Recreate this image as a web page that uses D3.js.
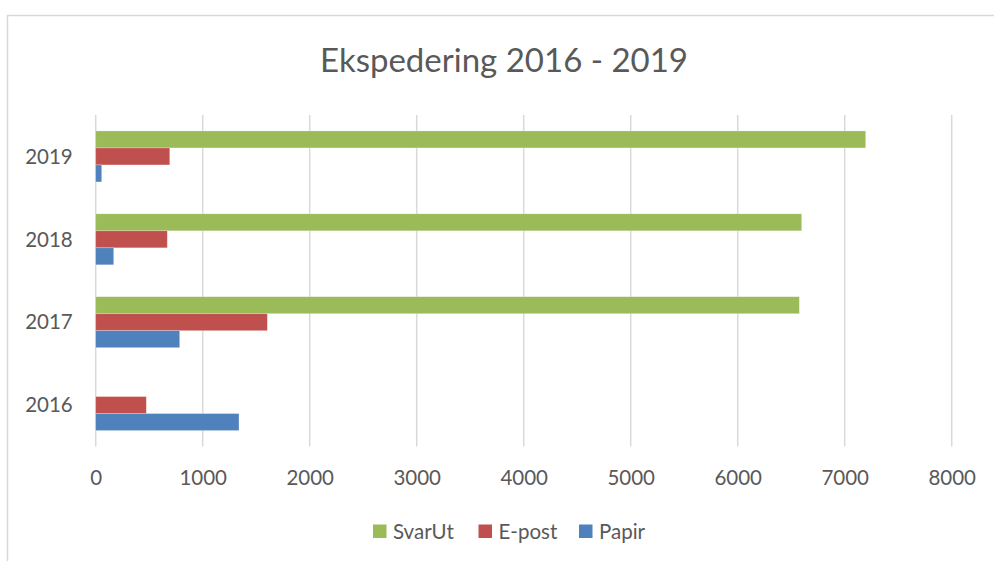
<!DOCTYPE html>
<html>
<head>
<meta charset="utf-8">
<script src="https://cdn.jsdelivr.net/npm/d3@7"></script>
<style>
  html, body { margin: 0; padding: 0; background: #fff; }
  svg { display: block; font-family: Lato, "Open Sans", sans-serif; }
</style>
</head>
<body>
<svg id="chart" width="994" height="561"></svg>
<script>
// data
var years = ["2019", "2018", "2017", "2016"];
var seriesNames = ["SvarUt", "E-post", "Papir"];
var svarUt = [7196, 6598, 6576, 0];
var ePost = [692, 669, 1604, 473];
var papir = [56, 168, 785, 1339];
var xTicks = [0, 1000, 2000, 3000, 4000, 5000, 6000, 7000, 8000];
var colors = ["#9BBB59", "#C0504D", "#4F81BD"];

var svg = d3.select("#chart");
var textColor = "#595959";

// chart frame (runs off the right/bottom edge like the screenshot)
svg.append("rect")
  .attr("x", 7.5).attr("y", 15.5)
  .attr("width", 1000).attr("height", 600)
  .attr("fill", "#fff")
  .attr("stroke", "#d9d9d9")
  .attr("stroke-width", 1.5);

var plotLeft = 95.7, plotRight = 951.7, plotTop = 115, plotBottom = 446.5;

var x = d3.scaleLinear().domain([0, 8000]).range([plotLeft, plotRight]);
var y = d3.scaleBand().domain(years).range([plotTop, plotBottom])
  .paddingInner(0.385).paddingOuter(0.1925);
var ySub = d3.scaleBand().domain(seriesNames).range([0, y.bandwidth()]);

// gridlines
svg.append("g").selectAll("line")
  .data(xTicks)
  .enter()
  .append("line")
  .attr("x1", d => x(d)).attr("x2", d => x(d))
  .attr("y1", plotTop).attr("y2", plotBottom)
  .attr("stroke", "#d9d9d9")
  .attr("stroke-width", 1.5);

// bars
var rows = years.map((yr, i) => ({
  year: yr,
  values: [svarUt[i], ePost[i], papir[i]]
}));

var groups = svg.append("g").selectAll("g")
  .data(rows)
  .enter()
  .append("g")
  .attr("transform", d => `translate(0, ${y(d.year)})`);

groups.selectAll("rect")
  .data(d => d.values.map((v, j) => ({ name: seriesNames[j], value: v, color: colors[j] })).filter(d => d.value > 0))
  .enter()
  .append("rect")
  .attr("x", x(0))
  .attr("y", d => ySub(d.name))
  .attr("width", d => x(d.value) - x(0))
  .attr("height", ySub.bandwidth())
  .attr("fill", d => d.color)
  .attr("stroke", "#fff")
  .attr("stroke-opacity", 0.35)
  .attr("stroke-width", 0.7);

// x axis labels
var xAxis = d3.axisBottom(x).tickValues(xTicks).tickFormat(d3.format("d")).tickSize(0).tickPadding(0);
var gx = svg.append("g")
  .attr("transform", `translate(0, ${plotBottom + 38})`)
  .call(xAxis);
gx.select(".domain").remove();
gx.selectAll("text")
  .attr("dy", 0)
  .style("font-family", "Lato, sans-serif")
  .style("font-size", "20.5px")
  .attr("fill", textColor);

// y axis labels
var yAxis = d3.axisLeft(y).tickSize(0).tickPadding(0);
var gy = svg.append("g")
  .attr("transform", `translate(${plotLeft - 23}, 0)`)
  .call(yAxis);
gy.select(".domain").remove();
gy.selectAll("text")
  .attr("dy", "0.35em")
  .style("font-family", "Lato, sans-serif")
  .style("font-size", "20.5px")
  .attr("fill", textColor);

// title
svg.append("text")
  .attr("x", 504).attr("y", 72)
  .attr("text-anchor", "middle")
  .style("font-size", "33px")
  .attr("fill", textColor)
  .text("Ekspedering 2016 - 2019");

// legend
var legendX = [373, 478.5, 579];
var legend = svg.append("g").selectAll("g")
  .data(seriesNames)
  .enter()
  .append("g")
  .attr("transform", (d, i) => `translate(${legendX[i]}, 524.5)`);

legend.append("rect")
  .attr("width", 13.5).attr("height", 13.5)
  .attr("fill", (d, i) => colors[i]);

legend.append("text")
  .attr("x", 20).attr("y", 14)
  .style("font-size", "20.5px")
  .attr("fill", textColor)
  .text(d => d);
</script>
</body>
</html>
